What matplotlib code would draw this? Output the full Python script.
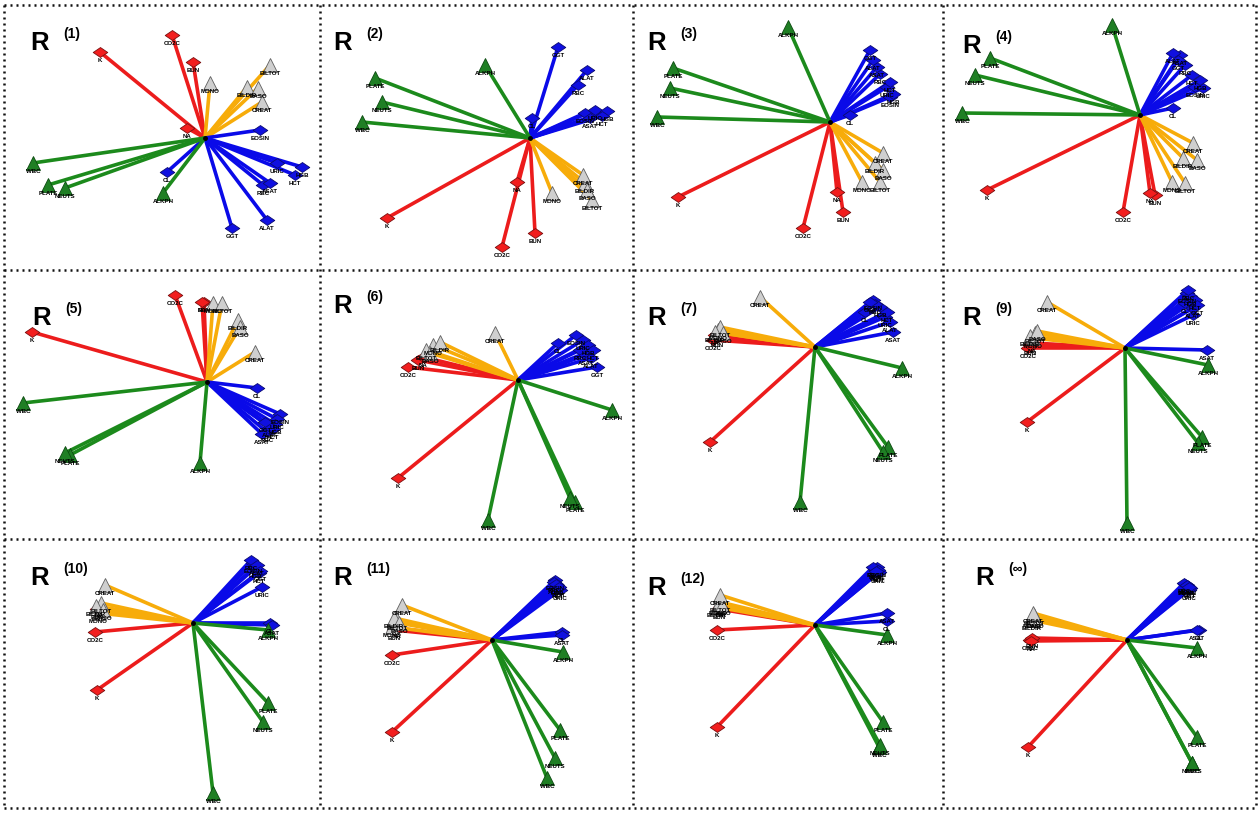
import numpy as np
import matplotlib
matplotlib.use("Agg")
import matplotlib.pyplot as plt
from matplotlib.lines import Line2D
from matplotlib.path import Path

plt.rcParams['font.family'] = ['Liberation Sans', 'DejaVu Sans']

# variables and their groups
NODES = ['K', 'CO2C', 'BUN', 'NA',
         'MONO', 'BILTOT', 'BILDIR', 'BASO', 'CREAT',
         'CL', 'EOSIN', 'URIC', 'HGB', 'HCT', 'RBC', 'ASAT', 'ALAT', 'GGT',
         'WBC', 'PLATE', 'NEUTS', 'ALKPH']
GROUPS = ['red'] * 4 + ['gray'] * 5 + ['blue'] * 9 + ['green'] * 4

PANEL_TAGS = ['(1)', '(2)', '(3)', '(4)', '(5)', '(6)',
              '(7)', '(9)', '(10)', '(11)', '(12)', '(\u221e)']

# node offsets from the hub for each panel (x right, y up)
LOAD_X = [
    [-105, -33, -12, -18, 5, 65, 42, 53, 57, -38, 55, 72, 97, 90, 58, 65, 62, 27, -172, -157, -140, -42],
    [-143, -28, 5, -13, 22, 62, 55, 57, 53, 2, 55, 65, 77, 72, 48, 60, 57, 28, -168, -155, -148, -45],
    [-152, -27, 13, 7, 32, 50, 45, 53, 53, 20, 60, 57, 63, 60, 50, 47, 43, 40, -173, -157, -160, -42],
    [-153, -17, 15, 10, 32, 45, 43, 57, 53, 33, 55, 63, 60, 52, 45, 40, 33, 38, -178, -150, -165, -28],
    [-175, -32, -3, -5, 6, 15, 31, 33, 48, 50, 73, 70, 68, 66, 60, 55, 63, 58, -184, -137, -142, -7],
    [-120, -110, -100, -95, -85, -92, -78, -88, -23, 40, 58, 65, 70, 75, 62, 68, 73, 79, -30, 57, 52, 94],
    [-105, -102, -98, -100, -97, -95, -100, -92, -55, 50, 58, 70, 65, 72, 60, 78, 75, 55, -15, 73, 68, 87],
    [-98, -97, -95, -93, -92, -90, -95, -88, -78, 60, 62, 68, 65, 70, 63, 82, 68, 72, 2, 77, 73, 83],
    [-96, -98, -96, -94, -95, -92, -97, -90, -88, 77, 60, 69, 62, 66, 58, 79, 64, 67, 20, 75, 70, 75],
    [-100, -100, -98, -95, -100, -95, -98, -93, -90, 70, 63, 68, 65, 66, 62, 70, 64, 67, 55, 68, 63, 71],
    [-98, -98, -96, -95, -97, -95, -98, -93, -95, 72, 62, 63, 60, 64, 58, 72, 63, 61, 64, 68, 65, 72],
    [-99, -97, -95, -96, -95, -93, -95, -92, -94, 72, 60, 62, 58, 63, 57, 70, 60, 62, 65, 70, 65, 70],
]
LOAD_Y = [
    [86, 103, 76, 10, 55, 73, 51, 50, 36, -34, 8, -25, -29, -37, -47, -45, -82, -90, -25, -47, -50, -55],
    [-80, -109, -95, -44, -55, -62, -45, -52, -37, 20, 25, 28, 27, 22, 53, 20, 68, 91, 16, 60, 36, 73],
    [-75, -106, -90, -70, -60, -60, -41, -48, -31, 7, 25, 35, 28, 40, 48, 55, 62, 72, 5, 54, 34, 95],
    [-75, -97, -80, -78, -67, -68, -43, -45, -28, 7, 28, 27, 35, 40, 50, 60, 62, 55, 2, 57, 40, 90],
    [50, 87, 80, 80, 79, 79, 62, 55, 30, -6, -32, -37, -42, -47, -50, -52, -45, -40, -21, -73, -71, -81],
    [-98, 13, 20, 23, 35, 30, 38, 27, 47, 37, 45, 40, 35, 30, 30, 25, 22, 13, -140, -122, -118, -30],
    [-95, 7, 10, 12, 17, 20, 15, 14, 50, 35, 47, 30, 40, 35, 43, 15, 25, 45, -155, -100, -105, -21],
    [-74, 0, 3, 5, 10, 15, 12, 17, 46, 45, 55, 33, 52, 48, 58, -2, 40, 43, -175, -89, -95, -17],
    [-67, -9, 14, 16, 10, 20, 17, 13, 38, 0, 60, 36, 55, 50, 63, -2, 58, 52, -170, -80, -99, -7],
    [-92, -15, 10, 12, 13, 20, 22, 17, 35, 8, 60, 50, 55, 52, 58, 5, 56, 53, -138, -90, -118, -12],
    [-102, -5, 16, 18, 20, 23, 18, 20, 30, 4, 58, 52, 56, 53, 58, 12, 55, 54, -122, -97, -120, -10],
    [-107, 0, 2, -1, 22, 25, 20, 22, 27, 10, 55, 50, 56, 52, 57, 10, 55, 53, -123, -97, -123, -8],
]

# ---- layout (pixels) ----
W, H = 1259, 814
COL_EDGES = [4, 320, 633, 943, 1256]
ROW_EDGES = [5, 270, 539, 808]
HUBS = [(205, 138), (530, 138), (830, 122), (1140, 115),
        (207, 382), (518, 380), (815, 347), (1125, 348),
        (193, 623), (492, 640), (815, 625), (1127, 640)]
TITLE_DX = [26, 13, 14, 19, 28, 13, 14, 19, 26, 13, 14, 32]
TITLE_DY = [45, 45, 45, 48, 55, 43, 55, 55, 46, 46, 56, 46]

LINE_COLORS = {'red': '#ec1c1c', 'gray': '#f7ac0a', 'blue': '#0a0ae8', 'green': '#1c8a1c'}
FACE_COLORS = {'red': '#f21e1e', 'gray': '#cfcfcf', 'blue': '#1010e0', 'green': '#1f7f24'}
EDGE_COLORS = {'red': '#7a1010', 'gray': '#606060', 'blue': '#0a0a70', 'green': '#0c4a10'}

flat_diamond = Path([(-1, 0), (0, 0.68), (1, 0), (0, -0.68), (-1, 0)],
                    [Path.MOVETO, Path.LINETO, Path.LINETO, Path.LINETO, Path.CLOSEPOLY])
MARKERS = {'red': flat_diamond, 'blue': flat_diamond, 'gray': '^', 'green': '^'}
MSIZE = {'red': 10.5, 'blue': 10.5, 'gray': 10, 'green': 10}

fig = plt.figure(figsize=(W / 100, H / 100), dpi=100)

for i, tag in enumerate(PANEL_TAGS):
    r, c = divmod(i, 4)
    left, right = COL_EDGES[c], COL_EDGES[c + 1]
    top, bottom = ROW_EDGES[r], ROW_EDGES[r + 1]
    hx, hy = HUBS[i]
    ax = fig.add_axes([left / W, 1 - bottom / H, (right - left) / W, (bottom - top) / H])
    ax.set_xlim(left - hx, right - hx)
    ax.set_ylim(hy - bottom, hy - top)
    ax.axis('off')

    xs, ys = LOAD_X[i], LOAD_Y[i]
    # spokes
    for x, y, g in zip(xs, ys, GROUPS):
        ax.plot([0, x], [0, y], color=LINE_COLORS[g], lw=2.6, solid_capstyle='butt', zorder=2)
    # nodes
    for x, y, g, name in zip(xs, ys, GROUPS, NODES):
        ax.plot(x, y, marker=MARKERS[g], ms=MSIZE[g], mfc=FACE_COLORS[g],
                mec=EDGE_COLORS[g], mew=0.6, ls='none', zorder=3)
        ax.annotate(name, (x, y), xytext=(0, -6), textcoords='offset points',
                    ha='center', va='center', fontsize=4.4, fontweight='bold',
                    color='black', zorder=4)
    ax.plot(0, 0, 'o', color='black', ms=2.5, zorder=5)

    # panel title
    tx = left + TITLE_DX[i]
    ty = top + TITLE_DY[i]
    fig.text(tx / W, 1 - ty / H, 'R', fontsize=18.5, fontweight='bold', va='baseline')
    fig.text((tx + 33) / W, 1 - (ty - 12) / H, tag, fontsize=10, fontweight='bold', va='baseline')

# dotted frame
for y in ROW_EDGES:
    fig.add_artist(Line2D([COL_EDGES[0] / W, COL_EDGES[-1] / W], [1 - y / H, 1 - y / H],
                          transform=fig.transFigure, color='#111111', lw=1.8,
                          ls=(0, (0.8, 1.6))))
for x in COL_EDGES:
    fig.add_artist(Line2D([x / W, x / W], [1 - ROW_EDGES[0] / H, 1 - ROW_EDGES[-1] / H],
                          transform=fig.transFigure, color='#111111', lw=1.8,
                          ls=(0, (0.8, 1.6))))

fig.savefig('out.png', dpi=100, facecolor='white')
